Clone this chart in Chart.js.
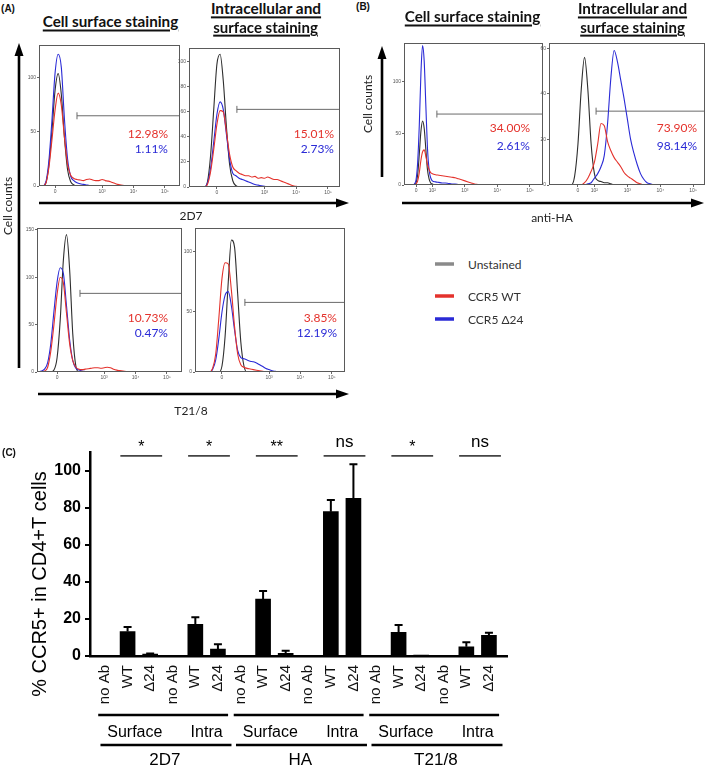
<!DOCTYPE html>
<html><head><meta charset="utf-8">
<script src="https://cdn.jsdelivr.net/npm/chart.js@4.4.1/dist/chart.umd.min.js"></script>
<style>
html,body{margin:0;padding:0;background:#fff;overflow:hidden;}
#page{position:relative;width:709px;height:768px;overflow:hidden;background:#fff;}
canvas{position:absolute;}
.t{position:absolute;white-space:nowrap;line-height:1;}
</style></head>
<body><div id="page"><svg id="deco" width="709" height="768" style="position:absolute;left:0;top:0"></svg></div>
<script>
// ================= DATA =================
// flow-cytometry axis ticks (display position on biexponential axis, label)
const xTickVals = [1.5, 2, 3, 4, 5];
const xTickText = ['0', '10²', '10³', '10⁴', '10⁵'];

// (A) 2D7 – cell surface staining
const aSurf2D7_u    = [1.0,1.1,1.2,1.3,1.4,1.5,1.6,1.7,1.8,1.9,2.0,2.1,2.2,2.3,2.4,2.5,2.6,2.7,2.8,2.9,3.0,3.1,3.2,3.3,3.4,3.5,3.6,3.7,3.8,3.9,4.0];
const aSurf2D7_unst = [0,0,2,18,50,88,104,85,45,15,4,1,0,0,0,0,0,0,0,0,0,0,0,0,0,0,0,0,0,0,0];
const aSurf2D7_wt   = [0,0,2,16,42,70,86,75,45,20,10,7,6,5.5,5,6,6.5,5.5,5,5,6,5,4.5,3.5,2.5,1.5,1,0.5,0,0,0];
const aSurf2D7_d24  = [0,0,3,22,60,104,122,110,62,25,9,5,3,2,1.5,1,0.5,0.5,0,0,0,0,0,0,0,0,0,0,0,0,0];
// (A) 2D7 – intracellular and surface staining
const aIntra2D7_u    = [1.0,1.1,1.2,1.3,1.4,1.5,1.6,1.7,1.8,1.9,2.0,2.1,2.2,2.3,2.4,2.5,2.6,2.7,2.8,2.9,3.0,3.1,3.2,3.3,3.4,3.5,3.6,3.7,3.8,3.9,4.0,4.1,4.2];
const aIntra2D7_unst = [0,0,4,25,62,98,106,85,48,18,5,1,0,0,0,0,0,0,0,0,0,0,0,0,0,0,0,0,0,0,0,0,0];
const aIntra2D7_wt   = [0,0,2,12,30,50,61,60,44,26,16,13,11,10,9,9,8,8.5,7,7.5,7,8,7,6,6,5,4,3,2,1,0.5,0,0];
const aIntra2D7_d24  = [0,0,3,15,36,58,68,62,42,22,11,9,7,6,5,4,3,2,1.5,1,0.5,0,0,0,0,0,0,0,0,0,0,0,0];
// (A) T21/8 – cell surface staining
const aSurfT218_u    = [0.9,1.0,1.1,1.2,1.3,1.4,1.5,1.6,1.7,1.8,1.9,2.0,2.1,2.2,2.3,2.4,2.5,2.6,2.7,2.8,2.9,3.0,3.1,3.2,3.3,3.4,3.5,3.6,3.7,3.8,3.9,4.0];
const aSurfT218_unst = [0,0,0,0,0,2,15,55,118,145,108,40,6,0,0,0,0,0,0,0,0,0,0,0,0,0,0,0,0,0,0,0];
const aSurfT218_wt   = [0,0,1,5,22,50,82,100,94,62,30,12,5,3,2.5,3,3.5,4,4.5,4.5,4,4.5,5,4.5,3,2,1.5,1,0.5,0,0,0];
const aSurfT218_d24  = [0,1,3,10,30,64,95,110,104,70,34,12,4,2,1,0.5,0,0,0,0,0,0,0,0,0,0,0,0,0,0,0,0];
// (A) T21/8 – intracellular and surface staining
const aIntraT218_u    = [1.0,1.1,1.2,1.3,1.4,1.5,1.6,1.7,1.8,1.9,2.0,2.1,2.2,2.3,2.4,2.5,2.6,2.7,2.8,2.9,3.0,3.1,3.2,3.3,3.4,3.5];
const aIntraT218_unst = [0,0,0,0,0,5,30,75,110,104,65,25,5,0,0,0,0,0,0,0,0,0,0,0,0,0];
const aIntraT218_wt   = [0,0,3,15,45,78,91,90,68,38,15,6,4,3,2.5,2,1.5,1,0.5,0,0,0,0,0,0,0];
const aIntraT218_d24  = [0,0,2,10,28,50,64,67,55,35,18,12,11,10,9,8.5,7.5,6,4.5,3,2,1,0.5,0,0,0];
// (B) anti-HA – cell surface staining
const bSurfHA_u    = [1.2,1.3,1.4,1.45,1.5,1.55,1.6,1.65,1.7,1.75,1.8,1.85,1.9,1.95,2.0,2.1,2.2,2.3,2.4,2.5,2.6,2.7,2.8,2.9,3.0,3.1,3.2,3.3,3.4,3.5];
const bSurfHA_unst = [0,0,0,0,2,10,30,52,62,55,35,15,6,2,1,0,0,0,0,0,0,0,0,0,0,0,0,0,0,0];
const bSurfHA_wt   = [0,0,0,0,1,4,12,24,32,34,28,20,15,12,11,10,9.5,9,8.5,8,7.5,7,6,5,4,3,2,1,0.5,0];
const bSurfHA_d24  = [0,0,0,1,5,22,58,108,135,120,78,36,15,7,4,3,2.5,2,2,1.5,1,1,0.5,0,0,0,0,0,0,0];
// (B) anti-HA – intracellular and surface staining
const bIntraHA_u    = [1.2,1.3,1.4,1.5,1.6,1.7,1.8,1.9,2.0,2.1,2.2,2.3,2.4,2.5,2.6,2.7,2.8,2.9,3.0,3.1,3.2,3.3,3.4,3.5,3.6,3.7,3.8];
const bIntraHA_unst = [0,0,4,18,42,56,42,18,5,2,1.5,1,1,0.5,0,0,0,0,0,0,0,0,0,0,0,0,0];
const bIntraHA_wt   = [0,0,0,0,0,1,3,6,10,18,27,26,19,15,12,10,8,5.5,4,3,2,1,0.5,0,0,0,0];
const bIntraHA_d24  = [0,0,0,0,0,0,0.5,1,3,5,8,13,27,47,59,54,46,38,29,20,14,9,5,2.5,1,0.5,0];

// histogram axes and gates (panel order: A-TL, A-TR, A-BL, A-BR, B-L, B-R)
const histYMax   = [130.5, 111, 152, 120, 137.5, 62.3];
const histYTicks = [[0,50,100],[0,20,40,60,80,100],[0,50,100,150],[0,50,100],[0,50,100],[0,20,40,60]];
const gateStart  = [2.2, 2.13, 2.23, 2.23, 2.14, 2.05];
const gateLevel  = [65, 62, 83, 58, 68.7, 32.4];
const pctWT      = ['12.98%','15.01%','10.73%','3.85%','34.00%','73.90%'];
const pctD24     = ['1.11%','2.73%','0.47%','12.19%','2.61%','98.14%'];
const legendLabels = ['Unstained','CCR5 WT','CCR5 Δ24'];

// (C) bar chart
const barCats  = ['no Ab','WT','Δ24','no Ab','WT','Δ24','no Ab','WT','Δ24','no Ab','WT','Δ24','no Ab','WT','Δ24','no Ab','WT','Δ24'];
const barMeans = [0,13.2,1.0,0,17.1,3.8,0,30.8,1.4,0,78.0,85.2,0,12.8,0.4,0,5.0,11.2];
const barSD    = [0,2.5,0.3,0,3.8,2.5,0,4.3,1.5,0,6.3,18.4,0,4.0,0,0,2.4,1.4];
const yTicksC  = [0,20,40,60,80,100];
const sigPairs = [[1,2],[4,5],[7,8],[10,11],[13,14],[16,17]];
const sigText  = ['*','*','**','ns','*','ns'];
const antibodies = ['2D7','HA','T21/8'];
const stainTypes = ['Surface','Intra'];
const yTitleC = '% CCR5+ in CD4+T cells';

// ================= RENDER =================
const RED = '#e4322c', BLUE = '#2a2ad6', GRAY = '#2e2e2e';
Chart.defaults.font.family = '"Liberation Sans", Arial, sans-serif';
Chart.defaults.animation = false;
const page = document.getElementById('page');
const svg = document.getElementById('deco');
const NS = 'http://www.w3.org/2000/svg';

function sline(x1,y1,x2,y2,col,w){const e=document.createElementNS(NS,'line');e.setAttribute('x1',x1);e.setAttribute('y1',y1);e.setAttribute('x2',x2);e.setAttribute('y2',y2);e.setAttribute('stroke',col);e.setAttribute('stroke-width',w);svg.appendChild(e);}
function spoly(pts,col){const e=document.createElementNS(NS,'polygon');e.setAttribute('points',pts.map(p=>p.join(',')).join(' '));e.setAttribute('fill',col);svg.appendChild(e);}
function txt(s,x,y,o={}){
  const d=document.createElement('div');d.className='t';d.textContent=s;
  d.style.font=o.font||'12px Lato';d.style.color=o.color||'#222';
  d.style.left=x+'px';d.style.top=y+'px';
  const ax=(o.ax===undefined)?0.5:o.ax;
  let tr=`translate(${-ax*100}%,-50%)`; if(o.rot) tr+=` rotate(${o.rot}deg)`;
  d.style.transform=tr;
  if(o.u){d.style.textDecoration='underline';d.style.textDecorationThickness='1.5px';d.style.textUnderlineOffset='2px';d.style.lineHeight='1.25';}
  page.appendChild(d);
  if(o.w){const fs=parseFloat(getComputedStyle(d).fontSize);d.style.fontSize=(fs*o.w/d.offsetWidth)+'px';}
  return d;
}
function makeCanvas(l,t,w,h){const c=document.createElement('canvas');c.width=w;c.height=h;c.style.width=w+'px';c.style.height=h+'px';c.style.left=l+'px';c.style.top=t+'px';page.appendChild(c);return c;}

// decorations: axis arrows & legend swatches
sline(19,368,19,54,'#000',2.6); spoly([[19,43],[14.5,56],[23.5,56]],'#000');
sline(39,203,338,203,'#000',2.6); spoly([[349,203],[336,198.5],[336,207.5]],'#000');
sline(38,394,338,394,'#000',2.6); spoly([[349,394],[336,389.5],[336,398.5]],'#000');
sline(382,177,382,57,'#000',2.6); spoly([[382,46],[377.5,59],[386.5,59]],'#000');
sline(402,203,692,203,'#000',2.6); spoly([[704,203],[691,198.5],[691,207.5]],'#000');
sline(435,264,454,264,'#8a8a8a',3.5); sline(435,296,454,296,RED,3.5); sline(435,319,454,319,BLUE,3.5);

const frame={id:'frame',afterDraw(c){const a=c.chartArea,ctx=c.ctx;ctx.save();ctx.strokeStyle='#5a5a5a';ctx.lineWidth=1;ctx.strokeRect(Math.round(a.left)+0.5,Math.round(a.top)+0.5,Math.round(a.right-a.left)-1,Math.round(a.bottom-a.top)-1);ctx.restore();}};

const histData=[
  [aSurf2D7_u,aSurf2D7_unst,aSurf2D7_wt,aSurf2D7_d24],
  [aIntra2D7_u,aIntra2D7_unst,aIntra2D7_wt,aIntra2D7_d24],
  [aSurfT218_u,aSurfT218_unst,aSurfT218_wt,aSurfT218_d24],
  [aIntraT218_u,aIntraT218_unst,aIntraT218_wt,aIntraT218_d24],
  [bSurfHA_u,bSurfHA_unst,bSurfHA_wt,bSurfHA_d24],
  [bIntraHA_u,bIntraHA_unst,bIntraHA_wt,bIntraHA_d24]
];
// layout (style): plot box [l,t,r,b], x display range, tick set, percent label anchor [right,yWT,yD24]
const histLayout=[
  {box:[39,45,180,186], xr:[0.99,5.48], xt:[1.5,3,4,5],   pct:[168,133,148]},
  {box:[189,48,340,187],xr:[0.62,5.38], xt:[1.5,3,4,5],   pct:[334,133,148]},
  {box:[37,228,182,372],xr:[0.86,5.48], xt:[1.5,3,4,5],   pct:[168,317,332]},
  {box:[195,228,345,372],xr:[0.64,5.42],xt:[1.5,3,4,5],   pct:[337,317,332]},
  {box:[404,43,543,185],xr:[1.13,5.40], xt:[1.5,2,3,4,5], pct:[530,127,145]},
  {box:[549,43,705,185],xr:[0.62,5.36], xt:[1.5,2,3,4,5], pct:[697,127,145]}
];

histData.forEach((H,k)=>{
  const L=histLayout[k];const [l,t,r,b]=L.box;
  const pL=14,pT=6,pR=6,pB=12;
  const cv=makeCanvas(l-pL,t-pT,r-l+pL+pR,b-t+pT+pB);
  const u=H[0];
  const ds=(arr,col)=>({data:u.map((x,i)=>({x:x,y:arr[i]})),borderColor:col,borderWidth:1.1,pointRadius:0,cubicInterpolationMode:'monotone',fill:false});
  const ch=new Chart(cv,{type:'line',
    data:{datasets:[ds(H[2],RED),ds(H[3],BLUE),ds(H[1],GRAY),
      {data:[{x:gateStart[k],y:gateLevel[k]},{x:L.xr[1],y:gateLevel[k]}],borderColor:'#6a6a6a',borderWidth:1,pointStyle:'line',rotation:90,pointRadius:[3.5,0],pointBorderColor:'#6a6a6a',pointBorderWidth:1,tension:0}]},
    options:{responsive:false,devicePixelRatio:1,animation:false,
      layout:{padding:{top:pT,right:pR,left:0,bottom:0}},
      plugins:{legend:{display:false},tooltip:{enabled:false}},
      scales:{
        x:{type:'linear',min:L.xr[0],max:L.xr[1],
          afterBuildTicks:s=>{s.ticks=L.xt.map(v=>({value:v}));},
          afterFit:s=>{s.height=pB;},
          ticks:{autoSkip:false,maxRotation:0,font:{size:5},color:'#555',padding:1,callback:v=>xTickText[xTickVals.indexOf(v)]},
          grid:{drawOnChartArea:false,tickLength:2,color:'#666'},border:{display:false}},
        y:{min:0,max:histYMax[k],
          afterBuildTicks:s=>{s.ticks=histYTicks[k].map(v=>({value:v}));},
          afterFit:s=>{s.width=pL;},
          ticks:{font:{size:5},color:'#555',padding:1},
          grid:{drawOnChartArea:false,tickLength:2,color:'#666'},border:{display:false}}
      }},
    plugins:[frame]});
  const a=ch.chartArea;
  cv.style.left=(l-a.left)+'px';cv.style.top=(t-a.top)+'px';
  txt(pctWT[k],L.pct[0],L.pct[1],{ax:1,font:'12px Lato',color:RED});
  txt(pctD24[k],L.pct[0],L.pct[2],{ax:1,font:'12px Lato',color:BLUE});
});

// ---- panel C ----
const cDeco={id:'cDeco',afterDraw(c){
  const {ctx,chartArea:a,scales:{x,y}}=c;
  ctx.save();ctx.fillStyle='#000';ctx.strokeStyle='#000';
  ctx.lineWidth=2;
  barMeans.forEach((m,i)=>{const e=barSD[i];if(!e)return;const px=x.getPixelForValue(i),y0=y.getPixelForValue(m),y1=y.getPixelForValue(m+e);
    ctx.beginPath();ctx.moveTo(px,y0);ctx.lineTo(px,y1);ctx.moveTo(px-4,y1);ctx.lineTo(px+4,y1);ctx.stroke();});
  // y title
  ctx.save();ctx.translate(a.left-50,a.bottom-72);ctx.rotate(-Math.PI/2);ctx.font='20px "Liberation Sans"';ctx.textAlign='center';ctx.textBaseline='middle';ctx.fillText(yTitleC,0,0);ctx.restore();
  // significance
  const yl=y.getPixelForValue(108.2);
  ctx.textAlign='center';ctx.textBaseline='alphabetic';
  sigPairs.forEach((p,k)=>{const x1=x.getPixelForValue(p[0]-0.32),x2=x.getPixelForValue(p[1]+0.53);
    ctx.strokeStyle='#444';ctx.lineWidth=1.6;ctx.beginPath();ctx.moveTo(x1,yl);ctx.lineTo(x2,yl);ctx.stroke();
    if(sigText[k]==='ns'){ctx.font='17px "Liberation Sans"';ctx.fillText('ns',(x1+x2)/2,yl-8.5);}
    else{ctx.font='16px "Liberation Sans"';ctx.fillText(sigText[k],(x1+x2)/2,yl-3.5);}
  });
  // group labels
  ctx.strokeStyle='#000';ctx.lineWidth=2.5;ctx.textBaseline='middle';
  antibodies.forEach((ab,g)=>{const f=g*6,l=g*6+5;
    ctx.beginPath();ctx.moveTo(x.getPixelForValue(f-0.3),a.bottom+59);ctx.lineTo(x.getPixelForValue(l+0.45),a.bottom+59);
    ctx.moveTo(x.getPixelForValue(f-0.2),a.bottom+89);ctx.lineTo(x.getPixelForValue(l+0.6),a.bottom+89);ctx.stroke();
    ctx.font='16px "Liberation Sans"';
    ctx.fillText(stainTypes[0],x.getPixelForValue(f+1.32),a.bottom+77);
    ctx.fillText(stainTypes[1],x.getPixelForValue(f+4.5),a.bottom+77);
    ctx.font='17px "Liberation Sans"';
    ctx.fillText(ab,x.getPixelForValue(f+2.65),a.bottom+104);
  });
  ctx.restore();
}};
const cvC=makeCanvas(0,430,520,338);
const chC=new Chart(cvC,{type:'bar',
  data:{datasets:[{data:barMeans.map((v,i)=>({x:i,y:v})),backgroundColor:'#000',barThickness:15}]},
  options:{responsive:false,devicePixelRatio:1,animation:false,
    layout:{padding:{top:22.5,right:13,left:0,bottom:0}},
    plugins:{legend:{display:false},tooltip:{enabled:false}},
    scales:{
      x:{type:'linear',offset:false,min:-0.664,max:17.8,
        afterBuildTicks:s=>{s.ticks=barCats.map((c,i)=>({value:i}));},
        afterFit:s=>{s.height=112;},
        ticks:{autoSkip:false,minRotation:90,maxRotation:90,padding:9,font:{size:15},color:'#111',callback:v=>barCats[v]},
        grid:{display:false,drawTicks:false},border:{color:'#000',width:2.5}},
      y:{min:0,max:110,
        afterBuildTicks:s=>{s.ticks=yTicksC.map(v=>({value:v}));},
        afterFit:s=>{s.width=90;},
        ticks:{font:{size:16,weight:'bold'},color:'#000',padding:4},
        grid:{drawOnChartArea:false,tickLength:5,color:'#000',lineWidth:2},border:{color:'#000',width:2.5}}
    }},
  plugins:[cDeco]});
{const a=chC.chartArea;cvC.style.left=(90-a.left)+'px';cvC.style.top=(656-a.bottom)+'px';}

// ---- texts ----
txt('(A)',8,8,{font:'bold 10px "Liberation Sans"',color:'#111'});
txt('(B)',363,6,{font:'bold 10px "Liberation Sans"',color:'#111'});
txt('(C)',9,452,{font:'bold 10px "Liberation Sans"',color:'#111'});
txt('Cell surface staining',110.5,22,{font:'bold 15px Lato',color:'#111',u:true,w:135});
txt('Intracellular and',266,8.5,{font:'bold 15px Lato',color:'#111',u:true,w:110});
txt('surface staining',265.5,27,{font:'bold 15px Lato',color:'#111',u:true,w:105});
txt('Cell surface staining',472.5,17,{font:'bold 15px Lato',color:'#111',u:true,w:135});
txt('Intracellular and',632.5,9,{font:'bold 15px Lato',color:'#111',u:true,w:109});
txt('surface staining',632.5,27,{font:'bold 15px Lato',color:'#111',u:true,w:105});
txt('Cell counts',7,206,{font:'12px Lato',rot:-90});
txt('Cell counts',367,104,{font:'12px Lato',rot:-90});
txt('2D7',191,215,{font:'12px Lato'});
txt('T21/8',191,410,{font:'12px Lato'});
txt('anti-HA',552,217,{font:'12px Lato'});
legendLabels.forEach((s,i)=>txt(s,468,[264,296,319][i],{ax:0,font:'12px Lato',color:'#333'}));
</script>
</body></html>
